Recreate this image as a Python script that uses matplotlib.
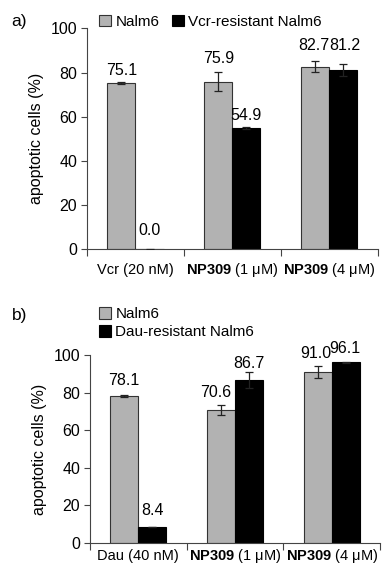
import numpy as np
import matplotlib.pyplot as plt

plt.rcParams['font.family'] = ['Liberation Sans', 'DejaVu Sans']
plt.rcParams['mathtext.fontset'] = 'custom'
plt.rcParams['mathtext.rm'] = 'Liberation Sans'
plt.rcParams['mathtext.bf'] = 'Liberation Sans:bold'

# panel a data
cats_a = [r"Vcr (20 nM)", r"$\mathbf{NP309}$ (1 μM)", r"$\mathbf{NP309}$ (4 μM)"]
nalm6_a = [75.1, 75.9, 82.7]
nalm6_a_err = [0.5, 4.2, 2.6]
res_a = [0.0, 54.9, 81.2]
res_a_err = [0.3, 0.4, 2.6]
res_a_name = "Vcr-resistant Nalm6"

# panel b data
cats_b = [r"Dau (40 nM)", r"$\mathbf{NP309}$ (1 μM)", r"$\mathbf{NP309}$ (4 μM)"]
nalm6_b = [78.1, 70.6, 91.0]
nalm6_b_err = [0.5, 2.6, 3.0]
res_b = [8.4, 86.7, 96.1]
res_b_err = [0.0, 4.2, 0.4]
res_b_name = "Dau-resistant Nalm6"

GREY = '#b2b2b2'
W = 0.29

fig = plt.figure(figsize=(3.84, 5.69), dpi=100)
ax_a = fig.add_axes([0.2266, 0.5619, 0.757, 0.3883])
ax_b = fig.add_axes([0.234, 0.0457, 0.756, 0.3304])


def draw(ax, cats, v1, e1, v2, e2, name2, lab_off1, lab_off2, lab_dx1, lab_dx2, xpad):
    x = np.arange(len(cats))
    ax.bar(x - W / 2, v1, W, color=GREY, edgecolor='#333333', linewidth=0.8,
           label='Nalm6', zorder=2)
    ax.bar(x + W / 2, v2, W, color='black', edgecolor='black', linewidth=0.8,
           label=name2, zorder=2)
    ax.errorbar(x - W / 2, v1, yerr=e1, fmt='none', ecolor='#222222',
                elinewidth=0.9, capsize=3, capthick=0.9, zorder=3)
    ax.errorbar(x + W / 2, v2, yerr=e2, fmt='none', ecolor='#222222',
                elinewidth=0.9, capsize=3, capthick=0.9, zorder=3)
    # value labels (Excel-style, placed by hand)
    for i in range(len(cats)):
        ax.text(x[i] - W / 2 + lab_dx1[i], v1[i] + lab_off1[i], f"{v1[i]:.1f}",
                ha='center', va='center', fontsize=11.5)
        ax.text(x[i] + W / 2 + lab_dx2[i], v2[i] + lab_off2[i], f"{v2[i]:.1f}",
                ha='center', va='center', fontsize=11.5)
    ax.set_xlim(-0.5, len(cats) - 0.5)
    ax.set_ylim(0, 100)
    ax.set_yticks([0, 20, 40, 60, 80, 100])
    ax.set_xticks(np.arange(-0.5, len(cats), 1.0))
    ax.set_xticklabels([])
    ax.set_xticks(x, minor=True)
    ax.set_xticklabels(cats, minor=True, fontsize=10.5)
    for t in ax.get_xticklabels(minor=True):
        t.set_verticalalignment('baseline')
    ax.tick_params(axis='x', which='minor', length=0, pad=xpad)
    ax.tick_params(axis='x', which='major', direction='out', length=5, width=0.8,
                   color='#444444')
    ax.tick_params(axis='y', direction='out', length=4, width=0.8,
                   color='#444444', labelsize=11.5, pad=3)
    for s in ['top', 'right']:
        ax.spines[s].set_visible(False)
    for s in ['left', 'bottom']:
        ax.spines[s].set_linewidth(0.8)
        ax.spines[s].set_color('#444444')
    ax.set_ylabel('apoptotic cells (%)', fontsize=11.5, labelpad=5)


draw(ax_a, cats_a, nalm6_a, nalm6_a_err, res_a, res_a_err, res_a_name,
     [6, 10.5, 9.6], [8.6, 5.7, 11.1], [0, 0, -0.01], [0, 0, 0.015], 18)
draw(ax_b, cats_b, nalm6_b, nalm6_b_err, res_b, res_b_err, res_b_name,
     [8.1, 9.3, 9.7], [8.8, 8.7, 7.3], [0, -0.05, -0.02], [0, 0, -0.01], 12)

ax_a.legend(loc='center left', bbox_to_anchor=(0.04, 1.03), ncol=2, frameon=False,
            fontsize=11, handlelength=0.8, handleheight=0.8, handletextpad=0.3,
            columnspacing=0.8, borderaxespad=0, borderpad=0)
ax_b.legend(loc='center left', bbox_to_anchor=(0.03, 1.17), ncol=1, frameon=False,
            fontsize=11, handlelength=0.8, handleheight=0.8, handletextpad=0.3,
            labelspacing=0.25, borderaxespad=0, borderpad=0)

fig.text(0.03, 0.962, 'a)', fontsize=12.5, va='center')
fig.text(0.03, 0.445, 'b)', fontsize=12.5, va='center')

fig.savefig('out.png', dpi=100)
